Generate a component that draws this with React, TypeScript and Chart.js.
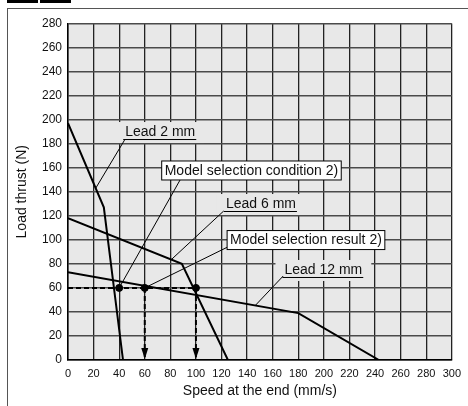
import React, { useEffect, useRef } from "react";
import { Chart, registerables } from "chart.js";

Chart.register(...registerables);

type P = [number, number];

const FONT = "'Liberation Sans', Arial, Helvetica, sans-serif";

// ---- data ----
const xTitle = "Speed at the end (mm/s)";
const yTitle = "Load thrust (N)";
const xRange: P = [0, 300];
const yRange: P = [0, 280];
const xStep = 20;
const yStep = 20;

const lead2: P[] = [[0, 197], [28, 127], [43, 0]];
const lead6: P[] = [[0, 118], [89, 80], [125, 0]];
const lead12: P[] = [[0, 73], [180, 39], [243, 0]];

const dashH: P[] = [[0, 60], [100, 60]];
const dashV1: P[] = [[60, 60], [60, 0]];
const dashV2: P[] = [[100, 60], [100, 0]];
const selPoints: P[] = [[40, 60], [60, 60], [100, 60]];
const arrowTips: P[] = [[60, 0], [100, 0]];

const labelTexts = [
  "Lead 2 mm",
  "Model selection condition 2)",
  "Lead 6 mm",
  "Model selection result 2)",
  "Lead 12 mm",
];
const labelCenters: P[] = [[72.1, 189.7], [143.4, 157.7], [150.8, 129.8], [186, 99.8], [199.6, 74.9]];
const labelBoxed = [false, true, false, true, false];
const leaderStarts: P[] = [[44.2, 183], [87.6, 149.8], [121.7, 124], [124.8, 94], [168.2, 69.9]];
const leaderEnds: P[] = [[21.7, 143], [40, 60], [80.6, 83.4], [60, 60], [146.5, 45.5]];

const toXY = (arr: P[]) => arr.map(([x, y]) => ({ x, y }));

const PLOT_BG = "#e8e8e8";

const annotationPlugin = {
  id: "annotations",
  beforeDraw(chart: any) {
    const { ctx, chartArea } = chart;
    ctx.save();
    ctx.fillStyle = PLOT_BG;
    ctx.fillRect(chartArea.left, chartArea.top, chartArea.right - chartArea.left, chartArea.bottom - chartArea.top);
    ctx.restore();
  },
  afterDatasetsDraw(chart: any) {
    const { ctx } = chart;
    const xs = chart.scales.x;
    const ys = chart.scales.y;
    const px = (p: P) => [xs.getPixelForValue(p[0]), ys.getPixelForValue(p[1])];
    ctx.save();
    ctx.font = `14px ${FONT}`;
    ctx.textBaseline = "middle";
    ctx.textAlign = "center";

    // label backgrounds (mask the grid behind plain labels)
    labelTexts.forEach((t, i) => {
      const [cx, cy] = px(labelCenters[i]);
      const w = ctx.measureText(t).width;
      if (!labelBoxed[i]) {
        ctx.fillStyle = PLOT_BG;
        ctx.fillRect(cx - w / 2 - 9, cy - 10, w + 18, 21);
      }
    });

    // leader lines
    ctx.strokeStyle = "#000";
    ctx.lineWidth = 1;
    labelTexts.forEach((_, i) => {
      const [x1, y1] = px(leaderStarts[i]);
      const [x2, y2] = px(leaderEnds[i]);
      ctx.beginPath();
      ctx.moveTo(x1, y1);
      ctx.lineTo(x2, y2);
      ctx.stroke();
    });

    // labels
    labelTexts.forEach((t, i) => {
      const [cx, cy] = px(labelCenters[i]);
      const w = ctx.measureText(t).width;
      if (labelBoxed[i]) {
        ctx.fillStyle = "#fff";
        ctx.fillRect(cx - w / 2 - 3, cy - 9.5, w + 6, 19);
        ctx.strokeStyle = "#000";
        ctx.lineWidth = 1;
        ctx.strokeRect(cx - w / 2 - 3, cy - 9.5, w + 6, 19);
      } else {
        ctx.strokeStyle = "#000";
        ctx.lineWidth = 1;
        ctx.beginPath();
        ctx.moveTo(cx - w / 2 - 2, cy + 7.5);
        ctx.lineTo(cx + w / 2 + 1, cy + 7.5);
        ctx.stroke();
      }
      ctx.fillStyle = "#111";
      ctx.fillText(t, cx, cy + 0.5);
    });

    // arrowheads
    ctx.fillStyle = "#000";
    arrowTips.forEach((p) => {
      const [x, y] = px(p);
      ctx.beginPath();
      ctx.moveTo(x, y - 1);
      ctx.lineTo(x - 3.5, y - 12);
      ctx.lineTo(x + 3.5, y - 12);
      ctx.closePath();
      ctx.fill();
    });
    ctx.restore();
  },
};

export default function App() {
  const ref = useRef<HTMLCanvasElement | null>(null);

  useEffect(() => {
    document.body.style.margin = "0";
    if (!ref.current) return;
    const solid = (data: P[]) => ({
      data: toXY(data),
      showLine: true,
      borderColor: "#000",
      borderWidth: 2,
      pointRadius: 0,
      fill: false,
      tension: 0,
    });
    const dashed = (data: P[]) => ({
      data: toXY(data),
      showLine: true,
      borderColor: "#000",
      borderWidth: 2,
      borderDash: [5, 3],
      pointRadius: 0,
      fill: false,
    });
    const chart = new Chart(ref.current, {
      type: "scatter",
      data: {
        datasets: [
          { label: "Lead 2 mm", ...solid(lead2) },
          { label: "Lead 6 mm", ...solid(lead6) },
          { label: "Lead 12 mm", ...solid(lead12) },
          { label: "h", ...dashed(dashH) },
          { label: "v1", ...dashed(dashV1) },
          { label: "v2", ...dashed(dashV2) },
          {
            label: "points",
            data: toXY(selPoints),
            showLine: false,
            pointRadius: 3.5,
            pointBackgroundColor: "#000",
            pointBorderColor: "#000",
          },
        ],
      } as any,
      options: {
        animation: false,
        responsive: false,
        devicePixelRatio: 1,
        layout: { padding: { left: 0, right: 13, top: 23.5, bottom: 0 } },
        plugins: { legend: { display: false }, tooltip: { enabled: false } },
        scales: {
          x: {
            type: "linear",
            min: xRange[0],
            max: xRange[1],
            ticks: {
              stepSize: xStep,
              padding: 7,
              autoSkip: false,
              maxRotation: 0,
              color: "#111",
              font: { size: 11, family: FONT },
            },
            grid: { color: "#222", lineWidth: 1.3, drawTicks: false },
            border: { color: "#000", width: 1.5 },
            title: {
              display: true,
              text: xTitle,
              color: "#111",
              font: { size: 14, family: FONT },
              padding: { top: 0, bottom: 6.6 },
            },
            afterFit: (s: any) => {
              s.height = 46;
            },
          },
          y: {
            type: "linear",
            min: yRange[0],
            max: yRange[1],
            ticks: {
              stepSize: yStep,
              padding: 6,
              color: "#111",
              font: { size: 12, family: FONT },
            },
            grid: { color: "#4a4a4a", lineWidth: 1.5, drawTicks: false },
            border: { color: "#000", width: 1.5 },
            title: {
              display: true,
              text: yTitle,
              color: "#111",
              font: { size: 14, family: FONT },
              padding: { top: 13.6, bottom: 0 },
            },
            afterFit: (s: any) => {
              s.width = 68;
            },
          },
        },
      } as any,
      plugins: [annotationPlugin],
    });
    return () => chart.destroy();
  }, []);

  return (
    <div style={{ position: "relative", width: 468, height: 406, overflow: "hidden", background: "#fff" }}>
      <canvas ref={ref} width={468} height={406} style={{ position: "absolute", left: 0, top: 0 }} />
      <div style={{ position: "absolute", left: 7, top: 8, width: 461, height: 0, borderTop: "1.5px solid #555" }} />
      <div style={{ position: "absolute", left: 7, top: 8, width: 0, height: 398, borderLeft: "1.5px solid #555" }} />
      <div style={{ position: "absolute", left: 7, top: 0, width: 31, height: 3, background: "#000" }} />
      <div style={{ position: "absolute", left: 40, top: 0, width: 31, height: 3, background: "#000" }} />
    </div>
  );
}
